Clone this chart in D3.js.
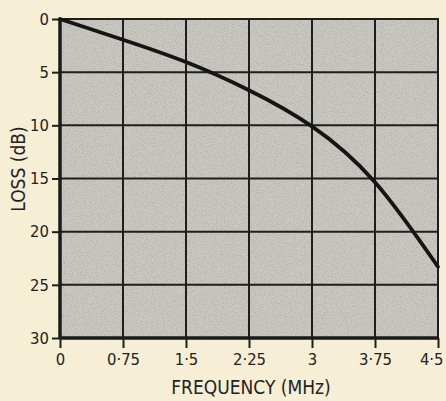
<!DOCTYPE html>
<html>
<head>
<meta charset="utf-8">
<script src="https://cdn.jsdelivr.net/npm/d3@7"></script>
<style>
  html, body { margin: 0; padding: 0; background: #f6eed5; }
  svg { display: block; }
  text { font-family: "DejaVu Sans Condensed", "DejaVu Sans", sans-serif; fill: #222; }
</style>
</head>
<body>
<svg id="chart" width="446" height="401"></svg>
<script>
// Data
const frequency = [0, 0.75, 1.5, 2.25, 3, 3.75, 4.5];
const loss      = [0, 1.95, 4.05, 6.7, 10.1, 15.35, 23.3];
const xTicks = [0, 0.75, 1.5, 2.25, 3, 3.75, 4.5];
const xTickLabels = ["0", "0·75", "1·5", "2·25", "3", "3·75", "4·5"];
const yTicks = [0, 5, 10, 15, 20, 25, 30];
const xTitle = "FREQUENCY (MHz)";
const yTitle = "LOSS (dB)";

const W = 446, H = 401;
const m = { left: 60, right: 8, top: 19, bottom: 63 };
const svg = d3.select("#chart");

const x = d3.scaleLinear().domain([0, 4.5]).range([m.left, W - m.right]);
const y = d3.scaleLinear().domain([0, 30]).range([m.top, H - m.bottom]);

// speckle texture for the plot area
const defs = svg.append("defs");
const f = defs.append("filter").attr("id", "grain").attr("x", 0).attr("y", 0).attr("width", 1).attr("height", 1);
f.append("feTurbulence").attr("type", "fractalNoise").attr("baseFrequency", 0.9).attr("numOctaves", 2).attr("seed", 3).attr("result", "n");
f.append("feColorMatrix").attr("in", "n").attr("type", "matrix")
  .attr("values", "0 0 0 0 0.35  0 0 0 0 0.35  0 0 0 0 0.33  0 0 0 -2.6 1.45")
  .attr("result", "dots");
f.append("feComposite").attr("in", "dots").attr("in2", "SourceGraphic").attr("operator", "in");

// plot background
svg.append("rect")
  .attr("x", x(0)).attr("y", y(0))
  .attr("width", x(4.5) - x(0)).attr("height", y(30) - y(0))
  .attr("fill", "#c9c9c1");
svg.append("rect")
  .attr("x", x(0)).attr("y", y(0))
  .attr("width", x(4.5) - x(0)).attr("height", y(30) - y(0))
  .attr("fill", "#c9c9c1").attr("filter", "url(#grain)").attr("opacity", 0.6);

// grid
const grid = svg.append("g").attr("stroke", "#1e1e1e").attr("stroke-width", 2);
grid.selectAll("line.v").data(xTicks.slice(1, -1)).join("line")
  .attr("class", "v")
  .attr("x1", d => x(d)).attr("x2", d => x(d))
  .attr("y1", y(0)).attr("y2", y(30));
grid.selectAll("line.h").data(yTicks.slice(1, -1)).join("line")
  .attr("class", "h")
  .attr("x1", x(0)).attr("x2", x(4.5))
  .attr("y1", d => y(d)).attr("y2", d => y(d));

// frame
svg.append("rect")
  .attr("x", x(0)).attr("y", y(0))
  .attr("width", x(4.5) - x(0)).attr("height", y(30) - y(0))
  .attr("fill", "none").attr("stroke", "#1e1e1e").attr("stroke-width", 2);
svg.append("line").attr("x1", x(0)).attr("x2", x(0)).attr("y1", y(0) - 1).attr("y2", y(30) + 1)
  .attr("stroke", "#1a1a1a").attr("stroke-width", 3.5);
svg.append("line").attr("x1", x(0)).attr("x2", x(4.5) + 1).attr("y1", y(30)).attr("y2", y(30))
  .attr("stroke", "#1a1a1a").attr("stroke-width", 3.5);

// axes
const xAxis = d3.axisBottom(x).tickValues(xTicks)
  .tickFormat((d, i) => xTickLabels[i]).tickSize(10).tickPadding(5);
const gx = svg.append("g").attr("transform", `translate(0,${y(30)})`).call(xAxis);
gx.select(".domain").remove();
gx.selectAll(".tick line").attr("stroke", "#1e1e1e").attr("stroke-width", 2);
gx.selectAll(".tick text").attr("font-size", 16.5).style("fill", "#222");
gx.selectAll(".tick text").filter((d, i) => i === xTicks.length - 1)
  .attr("text-anchor", "end").attr("dx", 5);

const yAxis = d3.axisLeft(y).tickValues(yTicks).tickSize(8).tickPadding(3);
const gy = svg.append("g").attr("transform", `translate(${x(0)},0)`).call(yAxis);
gy.select(".domain").remove();
gy.selectAll(".tick line").attr("stroke", "#1e1e1e").attr("stroke-width", 2);
gy.selectAll(".tick text").attr("font-size", 16.5).style("fill", "#222");

// curve
const line = d3.line().x((d, i) => x(frequency[i])).y(d => y(d)).curve(d3.curveNatural);
svg.append("path").datum(loss)
  .attr("d", line)
  .attr("fill", "none").attr("stroke", "#151515").attr("stroke-width", 3.8)
  .attr("stroke-linecap", "round");

// titles
svg.append("text").attr("x", 251).attr("y", 394)
  .attr("text-anchor", "middle").attr("font-size", 19).text(xTitle);
svg.append("text")
  .attr("transform", `translate(25,169) rotate(-90)`)
  .attr("text-anchor", "middle").attr("font-size", 19).text(yTitle);
</script>
</body>
</html>
